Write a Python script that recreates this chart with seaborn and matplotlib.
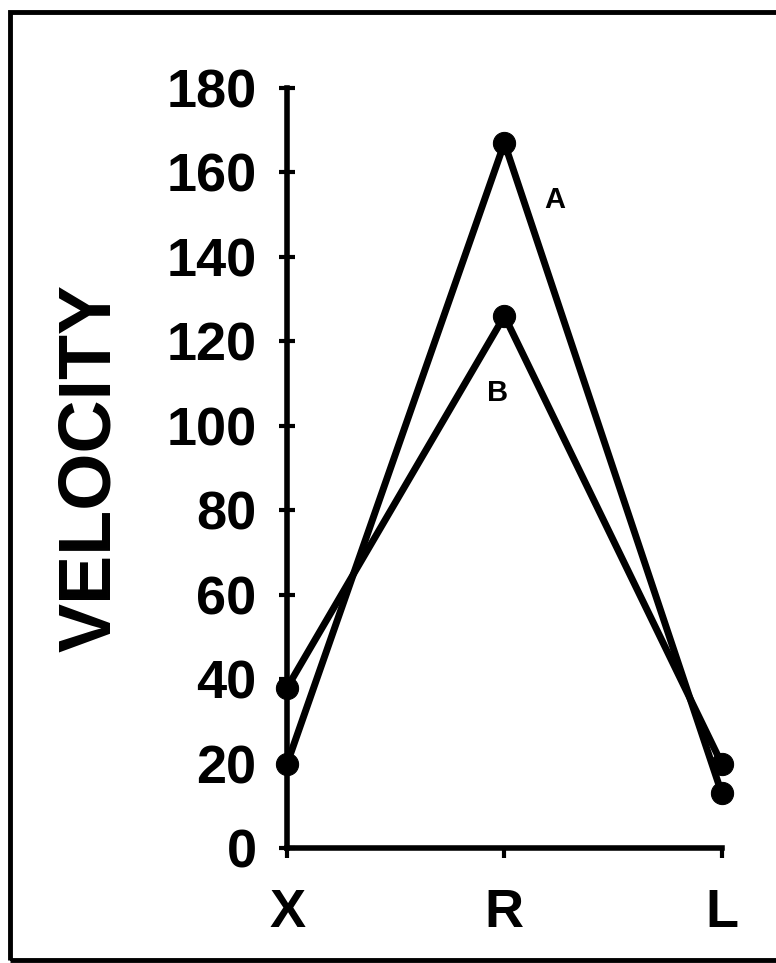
"""Velocity at X, R, L for two series (A, B)"""
import matplotlib
matplotlib.use("Agg")
import matplotlib.pyplot as plt
import seaborn as sns
import pandas as pd
from matplotlib.patches import Rectangle

# data
positions = ["X", "R", "L"]
velocity_a = [20, 167, 13]
velocity_b = [38, 126, 20]
y_ticks = [0, 20, 40, 60, 80, 100, 120, 140, 160, 180]

df = pd.concat([
    pd.DataFrame({"pos": positions, "velocity": velocity_a, "series": "A"}),
    pd.DataFrame({"pos": positions, "velocity": velocity_b, "series": "B"}),
])

sns.set_style("ticks")
plt.rcParams['font.family'] = ['Liberation Sans', 'DejaVu Sans']
plt.rcParams['font.weight'] = 'bold'
plt.rcParams['text.color'] = 'black'
plt.rcParams['axes.labelcolor'] = 'black'

fig = plt.figure(figsize=(7.76, 9.63), dpi=100)
ax = fig.add_axes([0.370, 0.1194, 0.560, 0.7892])

for name, sub in df.groupby("series"):
    sns.lineplot(data=sub, x="pos", y="velocity", ax=ax, sort=False,
                 color="black", linewidth=5, marker="o", markersize=16,
                 markeredgecolor="black", clip_on=False, zorder=3)

ax.set_xlim(0, 2)
ax.set_ylim(0, 180)
ax.set_yticks(y_ticks)
ax.set_xlabel("")
ax.set_ylabel("VELOCITY", fontsize=53, fontweight="bold", color="black",
              labelpad=30)

# series labels
ax.text(1.232, 153.5, "A", fontsize=21, fontweight="bold", color="black",
        ha="center", va="center")
ax.text(0.970, 107.8, "B", fontsize=21, fontweight="bold", color="black",
        ha="center", va="center")

sns.despine(ax=ax)
for s in ["left", "bottom"]:
    ax.spines[s].set_linewidth(4)
    ax.spines[s].set_color("black")
ax.tick_params(axis="y", direction="inout", length=12, width=3, labelsize=39,
               pad=16, colors="black")
ax.tick_params(axis="x", direction="out", length=7, width=3, labelsize=39,
               pad=22, colors="black")
for lab in ax.get_xticklabels() + ax.get_yticklabels():
    lab.set_fontweight("bold")

# frame around the figure
fig.patches.append(Rectangle((10 / 776, 3 / 963), 1.2, 948 / 963,
                             transform=fig.transFigure, fill=False,
                             edgecolor="black", linewidth=3.5))

fig.savefig("out.png", dpi=100)
